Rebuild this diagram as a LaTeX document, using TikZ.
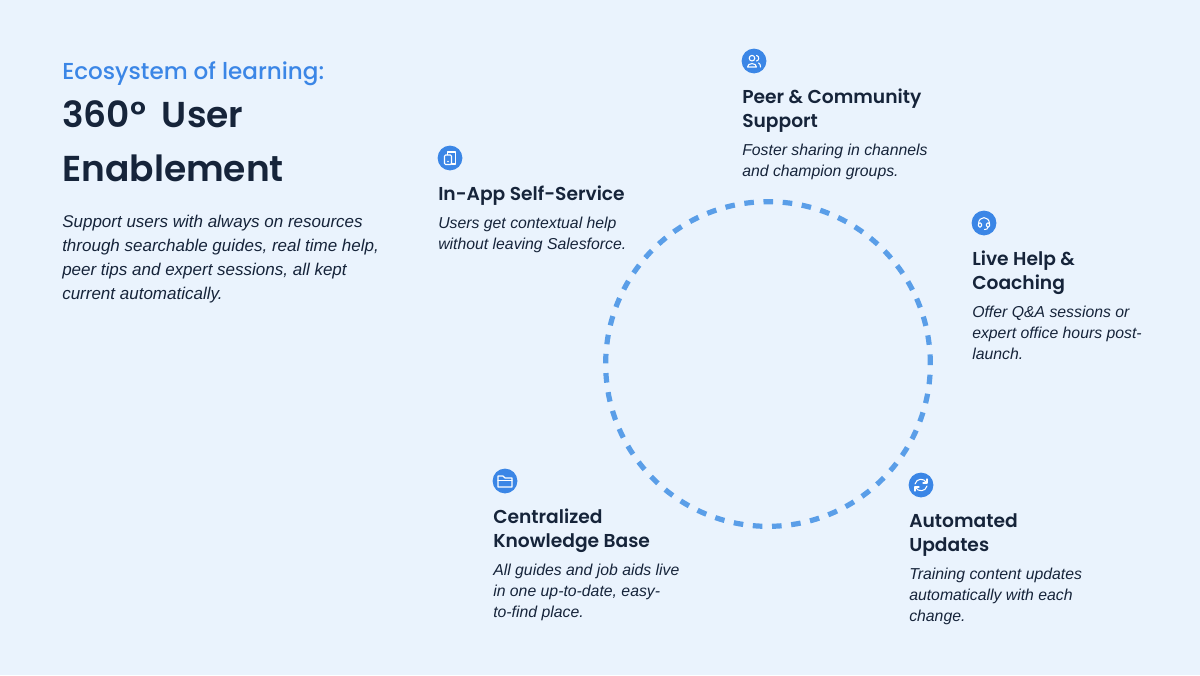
\documentclass[tikz,border=0pt]{standalone}
\usepackage{fontspec}
\setmainfont{Liberation Sans}
\newfontfamily\headfont{Poppins}[UprightFont=* Medium]
\newfontfamily\strongfont{Poppins}[UprightFont=* SemiBold]
\definecolor{pagebg}{HTML}{EAF3FD}
\definecolor{inkdark}{HTML}{16243A}
\definecolor{inkblue}{HTML}{3B86E6}
\definecolor{ringblue}{HTML}{5A9EE8}
\tikzset{
	badge/.style={circle,fill=inkblue,minimum size=18.6pt,inner sep=0pt},
	glyph/.style={draw=white,line width=0.8pt,line cap=round,line join=round},
	headtext/.style={anchor=base west,inner sep=0pt,align=left,text=inkdark,font=\strongfont\fontsize{14}{18}\selectfont},
	bodytext/.style={anchor=base west,inner sep=0pt,align=left,text=inkdark,font=\itshape\fontsize{11.85}{15.75}\selectfont},
}
\begin{document}
\begin{tikzpicture}[x=0.75pt,y=0.75pt,yscale=-1,xscale=1]
	\useasboundingbox (0,0) rectangle (1200,675);
	\fill [pagebg] (0,0) rectangle (1200,675);

	% Title block
	\node [anchor=base west,inner sep=0pt,text=inkblue,font=\headfont\fontsize{17.3}{18}\selectfont] (eyebrow) at (62,79) {Ecosystem of learning:};
	\node [anchor=base west,inner sep=0pt,align=left,text=inkdark,font=\strongfont\fontsize{27}{40.5}\selectfont] (title) at (62,181.5) {360°\kern5.5pt{} User\\Enablement};
	\node [anchor=base west,inner sep=0pt,align=left,text=inkdark,font=\itshape\fontsize{12.75}{18}\selectfont] (intro) at (62,299) {Support users with always on resources\\through searchable guides, real time help,\\peer tips and expert sessions, all kept\\current automatically.};

	% Ring
	\node [circle,draw=ringblue,line width=3.9pt,minimum size=243.5pt,inner sep=0pt,dash pattern={on 7.2pt off 7.22pt}] (ring) at (768,364) {};

	% Peer & Community
	\node [badge] (peerbadge) at (754,61) {};
	\begin{scope}[shift={(peerbadge.center)}]
		\draw [glyph] (-2,-2.8) circle [radius=2.8];
		\draw [glyph] (-6.5,6) .. controls (-6.5,1.5) and (2.5,1.5) .. (2.5,6) -- cycle;
		\draw [glyph] (2.5,-5.5) .. controls (5.5,-5) and (5.5,-0.5) .. (2.5,0);
		\draw [glyph] (4.5,2) .. controls (6,2.5) and (6.5,4) .. (6.5,6);
	\end{scope}
	\node [headtext] (peerhead) at (742,127) {Peer \& Community\\Support};
	\node [bodytext] (peertext) at (742,176) {Foster sharing in channels\\and champion groups.};

	% In-App
	\node [badge] (selfbadge) at (450,158) {};
	\begin{scope}[shift={(selfbadge.center)}]
		\draw [glyph] (-2.5,-3.5) -- (-2.5,-6) -- (5.5,-6) -- (5.5,6) -- (1.5,6);
		\draw [glyph,rounded corners=0.8pt] (-5.5,-3) rectangle (1.5,6.5);
		\fill [white] (-2,3.5) circle [radius=0.8];
	\end{scope}
	\node [headtext] (selfhead) at (438,200) {In-App Self-Service};
	\node [bodytext] (selftext) at (438,249) {Users get contextual help\\without leaving Salesforce.};

	% Live Help
	\node [badge] (livebadge) at (984,223) {};
	\begin{scope}[shift={(livebadge.center)}]
		\draw [glyph] (-5.5,1) .. controls (-5.5,-7.5) and (5.5,-7.5) .. (5.5,1);
		\draw [glyph,rounded corners=0.8pt] (-5.5,0) rectangle (-2.5,4);
		\draw [glyph,rounded corners=0.8pt] (2.5,0) rectangle (5.5,4);
		\draw [glyph] (4,4) .. controls (4,6) and (2.5,6.5) .. (0.5,6.5);
	\end{scope}
	\node [headtext] (livehead) at (972,289) {Live Help \&\\Coaching};
	\node [bodytext] (livetext) at (972,359) {Offer Q\&A sessions or\\expert office hours post-\\launch.};

	% Knowledge Base
	\node [badge] (basebadge) at (505,481) {};
	\begin{scope}[shift={(basebadge.center)}]
		\draw [glyph] (-7,-5) -- (-2,-5) -- (0,-3) -- (7,-3) -- (7,6) -- (-7,6) -- cycle;
		\draw [glyph] (-7,-0.5) -- (7,-0.5);
	\end{scope}
	\node [headtext] (basehead) at (493,547) {Centralized\\Knowledge Base};
	\node [bodytext] (basetext) at (493,617) {All guides and job aids live\\in one up-to-date, easy-\\to-find place.};

	% Automated Updates
	\node [badge] (updatebadge) at (921,485) {};
	\begin{scope}[shift={(updatebadge.center)}]
		\draw [glyph] (-6,-1) .. controls (-4.5,-7) and (3,-7) .. (5.5,-2.5);
		\draw [glyph] (6,1) .. controls (4.5,7) and (-3,7) .. (-5.5,2.5);
		\draw [glyph] (6,-6) -- (6,-2) -- (2,-2);
		\draw [glyph] (-6,6) -- (-6,2) -- (-2,2);
	\end{scope}
	\node [headtext] (updatehead) at (909,551) {Automated\\Updates};
	\node [bodytext] (updatetext) at (909,621) {Training content updates\\automatically with each\\change.};
\end{tikzpicture}
\end{document}
